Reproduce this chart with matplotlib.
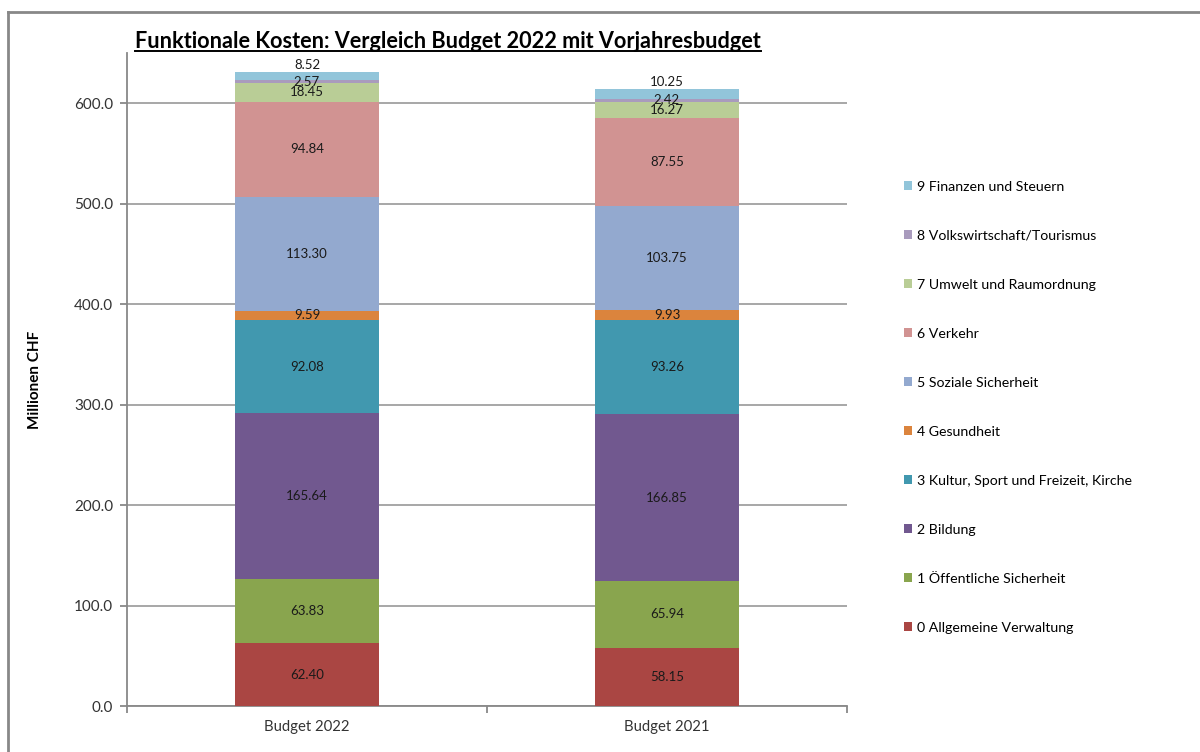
import numpy as np
import matplotlib
matplotlib.use("Agg")
import matplotlib.pyplot as plt
from matplotlib.lines import Line2D

plt.rcParams['font.family'] = ['Lato', 'DejaVu Sans']

categories = ["Budget 2022", "Budget 2021"]
series_names = [
    "0 Allgemeine Verwaltung",
    "1 Öffentliche Sicherheit",
    "2 Bildung",
    "3 Kultur, Sport und Freizeit, Kirche",
    "4 Gesundheit",
    "5 Soziale Sicherheit",
    "6 Verkehr",
    "7 Umwelt und Raumordnung",
    "8 Volkswirtschaft/Tourismus",
    "9 Finanzen und Steuern",
]
budget_2022 = [62.40, 63.83, 165.64, 92.08, 9.59, 113.30, 94.84, 18.45, 2.57, 8.52]
budget_2021 = [58.15, 65.94, 166.85, 93.26, 9.93, 103.75, 87.55, 16.27, 2.42, 10.25]
colors = ["#AA4643", "#89A54E", "#71588F", "#4198AF", "#DB843D",
          "#93A9CF", "#D19392", "#B9CD96", "#A99BBD", "#92C5DA"]

values = np.array([budget_2022, budget_2021])  # shape (2, 10)

fig = plt.figure(figsize=(12, 7.52), dpi=100)
ax = fig.add_axes([127 / 1200, 1 - 706 / 752, 720 / 1200, 653 / 752])

x = np.arange(len(categories))
bottom = np.zeros(len(categories))
handles = []
for i, name in enumerate(series_names):
    vals = values[:, i]
    h = ax.bar(x, vals, 0.4, bottom=bottom, color=colors[i], label=name, zorder=3)
    handles.append(h)
    for xi, v, b in zip(x, vals, bottom):
        if i == len(series_names) - 1:
            ax.annotate(f"{v:.2f}", (xi, b + v), xytext=(0, 0.5), textcoords="offset points",
                        ha="center", va="bottom", fontsize=9.5, color="#1a1a1a", zorder=5)
        else:
            ax.text(xi, b + v / 2, f"{v:.2f}", ha="center", va="center",
                    fontsize=9.5, color="#1a1a1a", zorder=5)
    bottom = bottom + vals

ax.set_xlim(-0.5, 1.5)
ax.set_ylim(0, 650)
ax.set_yticks(np.arange(0, 601, 100))
ax.set_yticklabels([f"{t:.1f}" for t in np.arange(0, 601, 100)])
ax.set_xticks([-0.5, 0.5, 1.5])
ax.set_xticklabels([])
ax.set_xticks(x, minor=True)
ax.set_xticklabels(categories, minor=True)
ax.tick_params(axis="x", which="minor", length=0, pad=10, labelsize=10.7, labelcolor="#333333")
ax.tick_params(axis="x", which="major", length=5, color="#888888", width=1.3)
ax.tick_params(axis="y", length=5, color="#888888", width=1.3, labelsize=11,
               labelcolor="#333333", pad=5)
ax.yaxis.grid(True, color="#A0A0A0", linewidth=1.3, zorder=0)
ax.set_axisbelow(True)
for s in ["top", "right"]:
    ax.spines[s].set_visible(False)
for s in ["left", "bottom"]:
    ax.spines[s].set_color("#888888")
    ax.spines[s].set_linewidth(1.3)

ax.set_ylabel("Millionen CHF", fontsize=11, fontweight="bold", labelpad=23)

title = fig.text(448 / 1200, 1 - 41 / 752, "Funktionale Kosten: Vergleich Budget 2022 mit Vorjahresbudget",
                 ha="center", va="center", fontsize=15.6, fontweight="bold")

leg = fig.legend(handles[::-1], series_names[::-1], loc="upper left",
                 bbox_to_anchor=(891 / 1200, 1 - 168 / 752), frameon=False,
                 fontsize=10.2, handlelength=0.6, handleheight=0.6, handletextpad=0.35,
                 labelspacing=2.61)

# outer frame (only left and top visible in the reference)
fig.add_artist(Line2D([8 / 1200, 8 / 1200], [0, 1 - 12 / 752], color="#888888", linewidth=2,
                      transform=fig.transFigure))
fig.add_artist(Line2D([8 / 1200, 1], [1 - 12 / 752, 1 - 12 / 752], color="#888888", linewidth=2,
                      transform=fig.transFigure))

# underline title
fig.canvas.draw()
bb = title.get_window_extent().transformed(fig.transFigure.inverted())
fig.add_artist(Line2D([bb.x0, bb.x1], [bb.y0 + 0.001, bb.y0 + 0.001], color="black",
                      linewidth=1.4, transform=fig.transFigure))

fig.savefig("out.png", dpi=100)
